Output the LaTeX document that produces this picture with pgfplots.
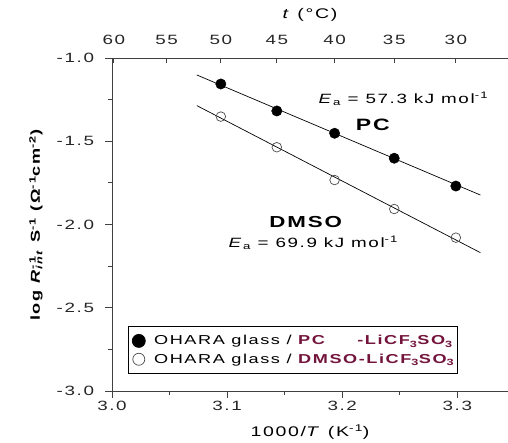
\documentclass[border=0pt]{standalone}
\usepackage{pgfplots}
\pgfplotsset{compat=1.18}
\usepackage{fontspec}
\setmainfont{Liberation Sans}[FakeStretch=1.4, LetterSpace=12]
\definecolor{maroon}{RGB}{115,20,60}
\pgfplotsset{
  legbig/.style={legend image code/.code={\path (0bp,0bp) (22bp,0bp); \draw[##1, mark size=6.5bp] plot coordinates {(9bp,0bp)};}},
  legmid/.style={legend image code/.code={\path (0bp,0bp) (22bp,0bp); \draw[##1, mark size=6bp] plot coordinates {(9bp,0bp)};}},
}
\begin{document}
\begin{tikzpicture}
\useasboundingbox (-112bp,-52bp) rectangle (396bp,391bp);
\begin{axis}[
  at={(0,0)}, anchor=south west, scale only axis,
  width=396bp, height=333bp,
  xmin=3.0, xmax=3.344, ymin=-3, ymax=-1,
  axis x line*=bottom, axis y line*=left,
  axis line style={black!75, line width=0.8bp},
  xtick={3.0,3.1,3.2,3.3}, minor x tick num=1,
  ytick={-3,-2.5,-2,-1.5,-1}, minor y tick num=1,
  tick align=outside,
  major tick length=6.5bp, minor tick length=4bp,
  every tick/.style={black!75, line width=0.8bp},
  xticklabel style={/pgf/number format/.cd, fixed, fixed zerofill, precision=1},
  yticklabel style={xshift=-8bp, /pgf/number format/.cd, fixed, fixed zerofill, precision=1},
  /pgf/number format/assume math mode=true,
  ticklabel style={font=\fontsize{13.5}{15}\selectfont, text=black!85},
  xlabel={1000/\textit{T} (K\textsuperscript{-1})},
  xlabel style={at={(axis description cs:0.5,-0.123)}, anchor=center, font=\fontsize{14}{16}\selectfont},
  ylabel={\textbf{log \textit{R}\rlap{\textsuperscript{-1}}\textsubscript{\textit{int}} S\textsuperscript{-1} (Ω\textsuperscript{-1}cm\textsuperscript{-2})}},
  ylabel style={at={(axis description cs:-0.192,0.5)}, anchor=center, font=\fontsize{13}{15}\selectfont},
  legend style={at={(axis cs:3.0139,-2.61)}, anchor=north west, draw=black, line width=0.8bp,
    font=\fontsize{13}{15}\selectfont, inner xsep=1bp, inner ysep=7bp, row sep=3.5bp,
    /tikz/every odd column/.append style={column sep=0bp}},
  legend cell align=left,
  clip=false,
]
\addplot[black, line width=0.7bp, forget plot] coordinates {(3.0737,-1.102) (3.320,-1.823)};
\addplot[black, line width=0.7bp, forget plot] coordinates {(3.0737,-1.286) (3.320,-2.169)};
\addplot[only marks, mark=*, mark size=5.2bp, black, legbig] coordinates {
(3.09454,-1.156) (3.14317,-1.318) (3.19336,-1.452) (3.24517,-1.602) (3.29870,-1.769)};
\addlegendentry{OHARA glass / \textcolor{maroon}{\textbf{\rlap{PC}\phantom{DMSO}-LiCF\textsubscript{3}SO\textsubscript{3}}}\hspace{12bp}}
\addplot[only marks, mark=o, mark size=4.8bp, black!70, mark options={fill=white, line width=0.7bp}, legmid] coordinates {
(3.09454,-1.352) (3.14317,-1.536) (3.19336,-1.733) (3.24517,-1.907) (3.29870,-2.079)};
\addlegendentry{OHARA glass / \textcolor{maroon}{\textbf{DMSO-LiCF\textsubscript{3}SO\textsubscript{3}}}\hspace{12bp}}
\node[anchor=west, font=\fontsize{13.5}{16}\selectfont] at (axis cs:3.1765,-1.246) {\textit{E}\textsubscript{a} = 57.3 kJ mol\textsuperscript{-1}};
\node[anchor=center, font=\bfseries\fontsize{16.5}{20}\selectfont] at (axis cs:3.2265,-1.402) {PC};
\node[anchor=center, font=\bfseries\fontsize{16}{20}\selectfont] at (axis cs:3.1683,-1.985) {DMSO};
\node[anchor=west, font=\fontsize{13.5}{16}\selectfont] at (axis cs:3.0983,-2.111) {\textit{E}\textsubscript{a} = 69.9 kJ mol\textsuperscript{-1}};
\end{axis}
\begin{axis}[
  at={(0,0)}, anchor=south west, scale only axis,
  width=396bp, height=333bp,
  xmin=3.0, xmax=3.344, ymin=-3, ymax=-1,
  axis x line*=top, axis y line=none,
  axis line style={black!75, line width=0.8bp},
  xtick={3.00165,3.04739,3.09454,3.14317,3.19336,3.24517,3.29870},
  xticklabels={60,55,50,45,40,35,30},
  tick align=inside, major tick length=5bp,
  every tick/.style={black!75, line width=0.8bp},
  ticklabel style={font=\fontsize{13.5}{15}\selectfont, text=black!85},
  xticklabel style={yshift=10bp},
  xlabel={\textit{t} (°C)},
  xlabel style={at={(axis description cs:0.5,1.129)}, anchor=center, font=\fontsize{14}{16}\selectfont},
]
\end{axis}
\end{tikzpicture}
\end{document}
